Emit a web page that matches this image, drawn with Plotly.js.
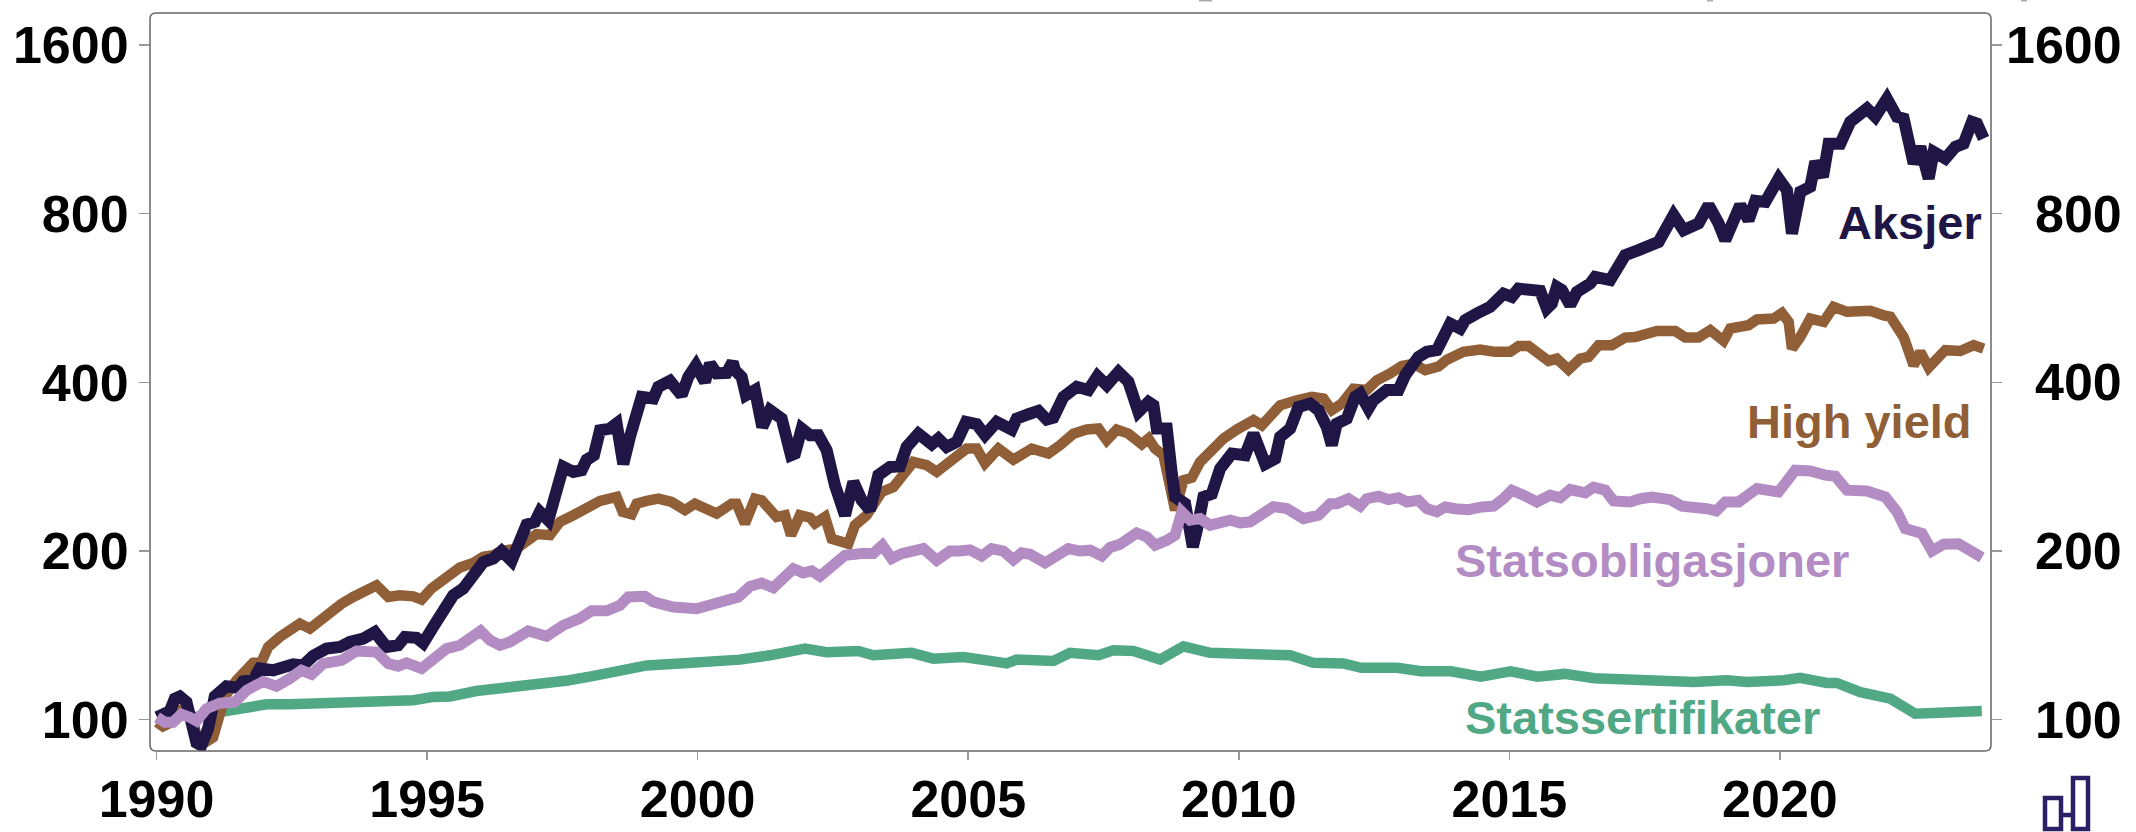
<!DOCTYPE html>
<html><head><meta charset="utf-8">
<script src="https://cdn.plot.ly/plotly-3.0.1.min.js"></script>
<style>html,body{margin:0;padding:0;background:#fff}#c{width:2136px;height:832px}</style>
</head><body><div id="c"></div>
<script>
const aksjerYears=[1990.01,1990.153,1990.246,1990.338,1990.43,1990.554,1990.646,1990.739,1990.83,1990.954,1991.077,1991.293,1991.509,1991.6,1991.786,1991.909,1992.156,1992.34,1992.525,1992.71,1992.895,1993.14,1993.388,1993.573,1993.82,1994.035,1994.25,1994.466,1994.59,1994.805,1994.93,1995.113,1995.267,1995.483,1995.668,1995.853,1996.038,1996.223,1996.377,1996.562,1996.716,1996.839,1996.993,1997.085,1997.24,1997.363,1997.517,1997.702,1997.856,1997.948,1998.084,1998.195,1998.379,1998.503,1998.626,1998.749,1998.965,1999.18,1999.273,1999.488,1999.704,1999.827,1999.969,2000.135,2000.228,2000.351,2000.536,2000.647,2000.689,2000.813,2000.893,2001.059,2001.195,2001.336,2001.552,2001.725,2001.798,2001.922,2002.076,2002.23,2002.384,2002.538,2002.723,2002.877,2003.031,2003.185,2003.339,2003.555,2003.739,2003.862,2004.078,2004.325,2004.448,2004.602,2004.787,2004.959,2005.156,2005.31,2005.526,2005.803,2005.896,2006.112,2006.297,2006.451,2006.574,2006.759,2007.005,2007.221,2007.388,2007.56,2007.776,2007.96,2008.084,2008.145,2008.33,2008.423,2008.484,2008.669,2008.762,2008.823,2009.008,2009.15,2009.224,2009.347,2009.501,2009.655,2009.871,2010.117,2010.271,2010.487,2010.672,2010.764,2010.949,2011.103,2011.318,2011.472,2011.626,2011.718,2011.811,2011.996,2012.15,2012.242,2012.396,2012.489,2012.735,2012.951,2013.074,2013.32,2013.474,2013.659,2013.752,2013.906,2014.091,2014.183,2014.399,2014.645,2014.892,2015.046,2015.169,2015.385,2015.569,2015.693,2015.785,2015.877,2015.97,2016.124,2016.247,2016.493,2016.586,2016.863,2017.048,2017.14,2017.387,2017.603,2017.757,2018.034,2018.219,2018.496,2018.681,2018.866,2018.989,2019.266,2019.42,2019.544,2019.729,2019.975,2020.129,2020.222,2020.376,2020.56,2020.653,2020.795,2020.899,2021.115,2021.3,2021.608,2021.762,2021.977,2022.162,2022.286,2022.47,2022.594,2022.748,2022.84,2023.056,2023.241,2023.395,2023.549,2023.641,2023.764];
const aksjerValues=[101,103,103.5,109,110,107.5,100,91,90,96.4,110,114.7,114,117,117.6,123.4,122.5,124.6,125.6,125,130,133.9,134.8,137.6,139.5,143.4,134.8,135.8,140.5,140,137,146.4,155.7,166.8,171.4,179.8,191,194,200,192,209,223,225.5,235,227,253,282.6,276.8,278.8,291,296.5,328.6,330.8,337.8,286,319.7,376.8,374.3,392.8,402.5,379.5,409,429,401,432,415,416,435,420.6,409,379.5,387.6,333,356.8,344.7,296.5,298.5,330.8,322,322,302.7,262,231.7,265.8,246.4,236.6,273.2,282.6,283.4,306.8,324,310.2,317.5,306.8,313.2,340,336.8,322,340,329.5,344.7,351,355.8,343.3,346,376.8,392.8,387.6,410.5,395.4,417.6,401,364,354.3,369,364,330.8,330.8,275,249.8,243,203.4,217.8,249.8,253,280.7,298.5,296.5,324,286,292.4,319.7,330.8,361.7,366.6,356.8,333,309,337.8,344.7,376.8,382,359.2,371.7,387.6,387.6,412,444,453.5,456.6,475.7,509.5,499,516.6,531,545.8,576,568.5,588,588,582.7,542,553,592,584.4,549.5,580,600.4,617,609,647.6,674.8,689,703,712.6,796,748,768.8,829,768.8,717.7,829,779,843.7,839.8,924.5,881.5,737.6,875.4,893.6,990.4,931,1067,1067,1167,1233,1191.5,1284,1191.5,1183,983.5,1053,924.5,1031.7,1003.5,1053,1067,1167,1159,1090];

const highYieldYears=[1990.01,1990.12,1990.246,1990.43,1990.554,1990.68,1990.739,1990.862,1991.046,1991.139,1991.263,1991.478,1991.663,1991.786,1991.94,1992.064,1992.279,1992.464,1992.649,1992.834,1993.018,1993.203,1993.419,1993.635,1993.82,1994.066,1994.282,1994.497,1994.744,1994.898,1995.08,1995.267,1995.422,1995.607,1995.853,1996.038,1996.223,1996.377,1996.654,1996.839,1997.024,1997.27,1997.455,1997.702,1997.948,1998.195,1998.503,1998.614,1998.78,1998.872,1999.057,1999.273,1999.519,1999.766,1999.95,2000.166,2000.351,2000.628,2000.72,2000.874,2001.059,2001.182,2001.336,2001.46,2001.614,2001.725,2001.891,2002.076,2002.168,2002.353,2002.476,2002.63,2002.784,2002.907,2003.123,2003.4,2003.616,2003.986,2004.232,2004.417,2004.725,2004.972,2005.156,2005.31,2005.557,2005.834,2006.174,2006.482,2006.697,2006.944,2007.19,2007.406,2007.56,2007.745,2007.96,2008.207,2008.33,2008.453,2008.607,2008.7,2008.823,2008.977,2009.131,2009.285,2009.501,2009.717,2009.963,2010.271,2010.425,2010.764,2011.072,2011.35,2011.565,2011.718,2011.903,2012.119,2012.365,2012.55,2012.797,2013.012,2013.228,2013.444,2013.69,2013.844,2014.152,2014.46,2014.738,2015.015,2015.169,2015.354,2015.723,2015.877,2016.093,2016.309,2016.463,2016.648,2016.894,2017.14,2017.325,2017.603,2017.726,2018.065,2018.25,2018.496,2018.712,2018.958,2019.082,2019.42,2019.575,2019.883,2020.037,2020.16,2020.222,2020.376,2020.56,2020.807,2020.992,2021.238,2021.669,2021.916,2022.039,2022.286,2022.47,2022.594,2022.748,2022.933,2023.056,2023.333,2023.58,2023.764];
const highYieldValues=[99,97.3,98.6,104,104,100,93,90.6,93,100,110,117.6,122.5,126.3,126.8,134.8,140.5,144.8,148.4,145.4,150.5,156.8,161,165.6,169,173.7,165.6,166.8,166,163.8,171.4,177.4,182.3,186.9,190.5,195.4,196.6,200,202,209,214.4,213.5,225.5,231.7,238.2,245.7,249.8,235,232.7,243,245.7,248,244.7,236.6,243,238.2,233.3,243,243,224,248,246.4,238.2,230,231.7,213.5,231.7,229.4,224,230,210.4,209,206,222.4,231.7,255,260,288.4,284.6,277,292.4,304.7,304.7,287,304.7,291,304.7,298.5,309,324,329.5,330.8,315.4,329.5,324,310.2,317.5,304.7,296.5,263.9,236.6,267.6,270.4,288.4,302.7,317.5,329.5,342.5,335.4,364,371.7,376.8,374.3,356.8,366.6,389.6,387.6,403.6,415,428,432,420.6,427,439,453.5,457.9,453.5,453.5,464.3,464.3,436.9,441,421.6,441,444,466,466,480.9,482,492.2,494,494,481,481,495.8,474.5,499,506,518,520,532,513,459.5,482,520,513,545.8,534.6,536.8,527,524,482,429,453.5,425,444,456.6,455,466,459.5];

const statsobligYears=[1990.01,1990.153,1990.307,1990.461,1990.615,1990.739,1990.923,1991.17,1991.447,1991.663,1991.971,1992.218,1992.464,1992.68,1992.865,1993.08,1993.42,1993.696,1994.066,1994.282,1994.466,1994.62,1994.898,1995.113,1995.36,1995.607,1995.792,1995.989,1996.161,1996.346,1996.531,1996.685,1996.87,1997.209,1997.517,1997.825,1998.04,1998.318,1998.564,1998.718,1999.026,1999.18,1999.55,1999.981,2000.166,2000.382,2000.659,2000.751,2000.967,2001.182,2001.398,2001.552,2001.768,2001.953,2002.107,2002.261,2002.507,2002.723,2003.031,2003.246,2003.413,2003.585,2003.77,2004.171,2004.417,2004.664,2004.848,2005.033,2005.249,2005.434,2005.649,2005.834,2005.988,2006.143,2006.42,2006.636,2006.851,2007.067,2007.252,2007.468,2007.622,2007.806,2008.114,2008.3,2008.453,2008.669,2008.823,2008.946,2009.1,2009.285,2009.47,2009.84,2010.024,2010.209,2010.64,2010.887,2011.195,2011.472,2011.688,2011.811,2012.027,2012.242,2012.365,2012.581,2012.766,2012.951,2013.105,2013.32,2013.474,2013.659,2013.814,2013.998,2014.245,2014.491,2014.707,2014.892,2015.046,2015.261,2015.508,2015.754,2015.939,2016.124,2016.401,2016.555,2016.771,2016.925,2017.233,2017.418,2017.634,2017.973,2018.188,2018.65,2018.823,2018.989,2019.236,2019.575,2019.975,2020.283,2020.56,2020.838,2021.022,2021.238,2021.608,2021.947,2022.162,2022.316,2022.624,2022.809,2023.025,2023.302,2023.58,2023.733];
const statsobligValues=[101,99,99,102.2,101,99.5,104.6,107,107.5,112.8,117,114.7,118.4,122.5,120.5,125.9,127.6,132.6,132,125.9,124.6,126.3,123.4,127.6,133.9,135.8,139.5,144,138.6,135.8,137.6,140.5,144,140.9,147.4,151.6,156.4,156.4,160,165.6,166,162.3,158.9,157.8,160,161,165.6,165.6,173,175.4,172,178.5,186,182.8,184.3,180.4,188.7,196.6,197.9,197.9,204.8,194,197.9,202,192.6,200,200,201,196,202,200,193,198.5,197.4,190.5,195.4,202,200,200.7,196,203,205.7,215.4,211.9,204.8,209,213.5,235,227,228.5,222.4,227,224.5,225.5,240,238.2,228.5,231.7,243,243,248,240.5,248,250.5,247,249,244.7,246.4,238,235,239.7,238,237,239.7,240.5,248,256.8,251.6,244.7,251.6,249,257.5,254,260,256.8,245.7,244.7,248,249.8,247,240.5,238,235.9,244.7,244.7,258.5,255,278.8,278,273.2,272,256.8,256,249.8,235,219.3,215,200,205.7,206,199.3,194.8];

const statssertYears=[1990.01,1990.246,1990.43,1990.677,1990.923,1991.17,1991.478,1991.724,1992.033,1992.464,1992.957,1993.388,1993.882,1994.314,1994.745,1995.113,1995.42,1995.91,1997.0,1997.6,1998.03,1998.44,1999.06,1999.67,2000.16,2000.78,2001.336,2001.644,2001.983,2002.384,2002.969,2003.246,2003.616,2003.955,2004.355,2004.91,2005.341,2005.711,2005.896,2006.266,2006.574,2006.882,2007.406,2007.683,2008.053,2008.546,2008.761,2008.977,2009.47,2009.947,2010.394,2010.949,2011.38,2011.93,2012.265,2012.93,2013.37,2013.92,2014.47,2015.02,2015.52,2016.02,2016.57,2017.23,2017.973,2018.404,2019.02,2019.39,2020.07,2020.375,2020.868,2021.05,2021.485,2022.04,2022.5,2022.84,2023.025,2023.33,2023.73];
const statssertValues=[101,101.8,103.2,101.1,101.4,103.2,104.2,105.6,106.5,106.5,106.8,106.8,107.5,107.5,108.3,109.8,110,112.5,115,117.5,119.5,122,125,126,126.5,128,130.3,132,133.9,132,132.6,130.3,131.1,131.6,128.5,129.4,127.6,126,128,127.3,127.3,131.6,130.3,133,132.6,128,131.1,135.2,131.6,131.6,130.3,130.3,126.3,126,123.8,123.8,122,122,119.3,122,119.3,120.7,118.6,117.6,117.6,116.8,117.6,116.8,117.6,118.8,116.3,116.3,112,109,102.5,102.5,103.6,102.8,103.6];

const yTicks=[100,200,400,800,1600];
const xTicks=[1990,1995,2000,2005,2010,2015,2020];
const names=["Statssertifikater","High yield","Aksjer","Statsobligasjoner"];
const NAVY="#1f1646",BROWN="#915f37",PURPLE="#b38cc4",GREEN="#50a884";

const W=2136,H=832,L=150,R=1991,T=13,B=751;
const px=x=>(x-L)/(R-L), py=y=>(B-y)/(B-T);
const FF="'Liberation Sans', Arial, sans-serif";

const tr=(x,y,c,w,n,ax)=>({x,y,name:n,type:"scatter",mode:"lines",line:{color:c,width:w,shape:"linear"},yaxis:ax||"y",hoverinfo:"skip"});
const data=[
 tr(statssertYears,statssertValues,GREEN,10.5,names[0]),
 tr(highYieldYears,highYieldValues,BROWN,10.5,names[1]),
 tr(aksjerYears,aksjerValues,NAVY,12,names[2]),
 tr(statsobligYears,statsobligValues,PURPLE,11,names[3],"y2")
];
const yBase={type:"log",range:[1.9441,3.2614],tickmode:"array",tickvals:yTicks,ticktext:yTicks.map(String),
 ticks:"outside",ticklen:10,tickwidth:1.5,tickcolor:"#999",showgrid:false,zeroline:false,showline:false,
 tickfont:{family:FF,size:52,color:"#000",weight:700}};
const lab=(t,x,y,c,a)=>({text:t,xref:"paper",yref:"paper",x:px(x),y:py(y),xanchor:a||"right",yanchor:"middle",showarrow:false,
 font:{family:FF,size:47,color:c,weight:700}});
const rightLab=v=>({text:String(v),xref:"paper",yref:"y",x:px(2124),y:Math.log10(v),xanchor:"right",yanchor:"middle",showarrow:false,
 font:{family:FF,size:52,color:"#000",weight:700}});
const rr=6;
const framePath=`M ${px(L+rr)} ${py(T)} L ${px(R-rr)} ${py(T)} Q ${px(R)} ${py(T)} ${px(R)} ${py(T+rr)} L ${px(R)} ${py(B-rr)} Q ${px(R)} ${py(B)} ${px(R-rr)} ${py(B)} L ${px(L+rr)} ${py(B)} Q ${px(L)} ${py(B)} ${px(L)} ${py(B-rr)} L ${px(L)} ${py(T+rr)} Q ${px(L)} ${py(T)} ${px(L+rr)} ${py(T)} Z`;
const ICON="#2a2066";
const rect=(x0,y0,x1,y1)=>({type:"rect",xref:"paper",yref:"paper",x0:px(x0),x1:px(x1),y0:py(y0),y1:py(y1),line:{color:ICON,width:4.5},fillcolor:"rgba(0,0,0,0)"});
const bit=(x0,x1)=>({type:"rect",xref:"paper",yref:"paper",x0:px(x0),x1:px(x1),y0:py(0),y1:py(1.5),line:{width:0},fillcolor:"#aaa"});
const layout={
 width:W,height:H,paper_bgcolor:"#fff",plot_bgcolor:"#fff",showlegend:false,
 margin:{l:L,r:W-R,t:T,b:H-B,pad:0},
 xaxis:{type:"linear",range:[1989.88,2023.9],tickmode:"array",tickvals:xTicks,ticktext:xTicks.map(String),
  ticks:"outside",ticklen:8,tickwidth:1.5,tickcolor:"#999",showgrid:false,zeroline:false,showline:false,
  tickfont:{family:FF,size:52,color:"#000",weight:700},ticklabelstandoff:-5},
 yaxis:Object.assign({},yBase,{side:"left",ticklabelstandoff:0}),
 yaxis2:Object.assign({},yBase,{side:"right",overlaying:"y",anchor:"x",showticklabels:false}),
 annotations:[
  lab(names[2],1984,222,NAVY),
  lab(names[1],1974,421,BROWN),
  lab(names[3],1851,560,PURPLE),
  lab(names[0],1822,717,GREEN)
 ].concat(yTicks.map(rightLab)),
 shapes:[
  {type:"path",xref:"paper",yref:"paper",path:framePath,line:{color:"#666",width:1.5},fillcolor:"rgba(0,0,0,0)",layer:"above"},
  rect(2045,798,2061,829),
  rect(2073,778,2088,829),
  {type:"line",xref:"paper",yref:"paper",x0:px(2061),x1:px(2073),y0:py(815),y1:py(815),line:{color:ICON,width:4.5}},
  bit(1199,1212),bit(1707,1713),bit(2021,2027)
 ]
};
Plotly.newPlot("c",data,layout,{staticPlot:true,displayModeBar:false}).then(()=>{
 document.querySelectorAll(".js-line").forEach((e,i)=>{ if(i===2) e.style.strokeLinejoin="miter"; });
});
</script></body></html>
